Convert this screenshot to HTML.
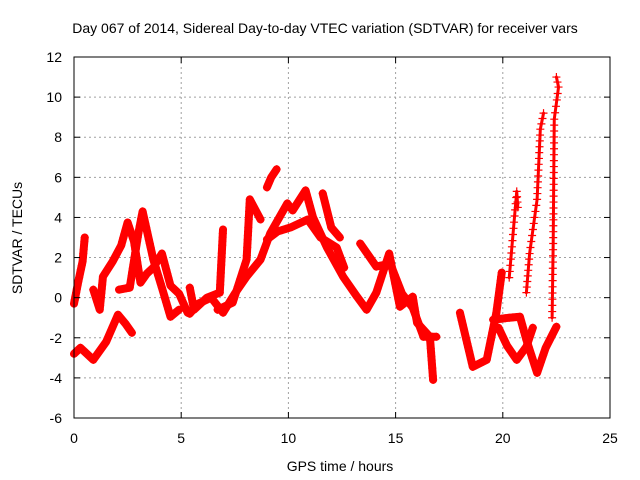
<!DOCTYPE html>
<html><head><meta charset="utf-8"><style>
body{margin:0;background:#fff;}
svg{display:block;font-family:"Liberation Sans",sans-serif;}
</style></head><body>
<svg id="chart" width="640" height="480" viewBox="0 0 640 480">
<rect width="640" height="480" fill="#fff"/>
<text x="325" y="33" font-size="14" text-anchor="middle" fill="#000">Day 067 of 2014, Sidereal Day-to-day VTEC variation (SDTVAR) for receiver vars</text>
<g id="grid"></g>
<g id="series"></g>
<g id="axes"></g>
<text x="340" y="471" font-size="14" text-anchor="middle">GPS time / hours</text>
<text transform="translate(22,238) rotate(-90)" font-size="14" text-anchor="middle">SDTVAR / TECUs</text>
</svg>
<script>
const xTicks=[0,5,10,15,20,25];
const yTicks=[-6,-4,-2,0,2,4,6,8,10,12];
const track1T=[0,0.3,0.9,1.5,2.05,2.4,2.7];
const track1V=[-2.8,-2.5,-3.1,-2.2,-0.85,-1.3,-1.75];
const track2T=[0,0.2,0.4,0.5];
const track2V=[-0.3,0.8,1.8,3.0];
const track3T=[0.9,1.2,1.35,1.8,2.2,2.5,2.8,3.1,3.4,3.7,4.1,4.5,4.9,5.3];
const track3V=[0.4,-0.6,1.05,1.8,2.6,3.75,2.8,0.75,1.2,1.5,2.2,0.6,0.2,-0.75];
const track4T=[2.1,2.6,3.0,3.2,3.7,4.1,4.5,4.9];
const track4V=[0.4,0.5,3.2,4.3,1.9,0.5,-0.95,-0.6];
const track5T=[5.4,5.6,6.2,6.8,6.95];
const track5V=[0.5,-0.6,0.0,0.25,3.4];
const track6T=[6.7,7.4,8.05,8.2,8.7];
const track6V=[-0.6,-0.25,1.9,4.9,3.9];
const track7T=[5.4,5.8,6.4,6.95,7.5,8.05,8.7,9.15,9.95,10.2,10.8,11.15,11.8,12.55,13.2,13.65,14.1,14.7,15.2,15.8,16.0,16.6,16.75];
const track7V=[-0.8,-0.3,0.0,-0.75,0.2,1.05,1.9,3.2,4.7,4.35,5.35,4.0,2.5,1.05,0.05,-0.6,0.25,2.2,-0.45,0.05,-1.25,-1.95,-4.1];
const track8T=[9.0,9.5,10.1,10.9,11.5,12.25,12.6];
const track8V=[2.9,3.3,3.5,3.9,3.0,2.5,1.5];
const track9T=[9.0,9.2,9.45];
const track9V=[5.5,6.0,6.4];
const track10T=[11.6,12.0,12.4];
const track10V=[5.2,3.5,3.0];
const track11T=[13.35,14.1,14.75,15.3,15.8,16.3,16.9];
const track11V=[2.7,1.55,1.7,0.2,-0.5,-1.95,-1.95];
const track12T=[18.0,18.6,19.25,19.7,19.95];
const track12V=[-0.75,-3.45,-3.1,-0.75,1.25];
const track13T=[19.55,20.3,20.8,21.1,21.6,22.0,22.5];
const track13V=[-1.1,-1.0,-0.95,-2.1,-3.75,-2.5,-1.45];
const track14T=[19.8,20.2,20.65,21.1,21.4];
const track14V=[-1.5,-2.4,-3.1,-2.45,-1.5];
const track15T=[21.1,21.25,21.6,21.75,21.9];
const track15V=[0.25,2.2,4.9,8.4,9.2];
const track16T=[22.3,22.35,22.4,22.6,22.5];
const track16V=[-1.0,2.7,8.9,10.5,11.0];
const track17T=[20.3,20.65,20.7];
const track17V=[1.0,5.3,4.5];
const tracks=[[track1T,track1V],[track2T,track2V],[track3T,track3V],[track4T,track4V],[track5T,track5V],[track6T,track6V],[track7T,track7V],[track8T,track8V],[track9T,track9V],[track10T,track10V],[track11T,track11V],[track12T,track12V],[track13T,track13V],[track14T,track14V],[track15T,track15V],[track16T,track16V],[track17T,track17V]];
const NS='http://www.w3.org/2000/svg';
const L=74,R=610,T=57,B=418;
function xs(t){return L+(t-0)/(25-0)*(R-L);}
function ys(v){return B-(v+6)/(18)*(B-T);}
function mk(tag,attrs,parent){const e=document.createElementNS(NS,tag);for(const k in attrs)e.setAttribute(k,attrs[k]);parent.appendChild(e);return e;}
const grid=document.getElementById('grid'),axes=document.getElementById('axes'),ser=document.getElementById('series');
xTicks.forEach(t=>{const x=xs(t);
 if(t>0&&t<25){const g=mk('line',{x1:x,x2:x,y1:T,y2:B,stroke:'#a0a0a0','stroke-dasharray':'2,3'},grid);
 
 }
 mk('line',{x1:x,x2:x,y1:B,y2:B-6,stroke:'#000'},axes);
 mk('line',{x1:x,x2:x,y1:T,y2:T+6,stroke:'#000'},axes);
 const lb=mk('text',{x:x,y:443,'font-size':14,'text-anchor':'middle'},axes);lb.textContent=t;
 
 
});
yTicks.forEach(v=>{const y=ys(v);
 if(v>-6&&v<12){const g=mk('line',{x1:L,x2:R,y1:y,y2:y,stroke:'#a0a0a0','stroke-dasharray':'2,3'},grid);
 
 }
 mk('line',{x1:L,x2:L+6,y1:y,y2:y,stroke:'#000'},axes);
 mk('line',{x1:R,x2:R-6,y1:y,y2:y,stroke:'#000'},axes);
 const lb=mk('text',{x:62,y:y+5,'font-size':14,'text-anchor':'end'},axes);lb.textContent=v;
 
 
});
const frame=mk('rect',{x:L,y:T,width:R-L,height:B-T,fill:'none',stroke:'#000'},axes);


tracks.forEach(([tt,vv],k)=>{
 const sparse=tt[0]>=20.2&&k>=14;
 const pts=tt.map((t,i)=>xs(t)+','+ys(vv[i])).join(' ');
 const pl=mk('polyline',{points:pts,fill:'none',stroke:'#ff0000','stroke-width':sparse?3:8,'stroke-linejoin':'round','stroke-linecap':'round'},ser);
 
 
 let d='';
 for(let i=0;i<tt.length-1;i++){
  const x0=xs(tt[i]),y0=ys(vv[i]),x1=xs(tt[i+1]),y1=ys(vv[i+1]);
  const len=Math.hypot(x1-x0,y1-y0),n=Math.max(1,Math.round(len/(sparse?6:4)));
  for(let j=0;j<=n;j++){const x=x0+(x1-x0)*j/n,y=y0+(y1-y0)*j/n;d+=`M${x-4},${y}H${x+4}M${x},${y-4}V${y+4}`;}
 }
 const p=mk('path',{d:d,stroke:'#ff0000','stroke-width':1.2,fill:'none'},ser);
 
 
});
</script>
</body></html>
